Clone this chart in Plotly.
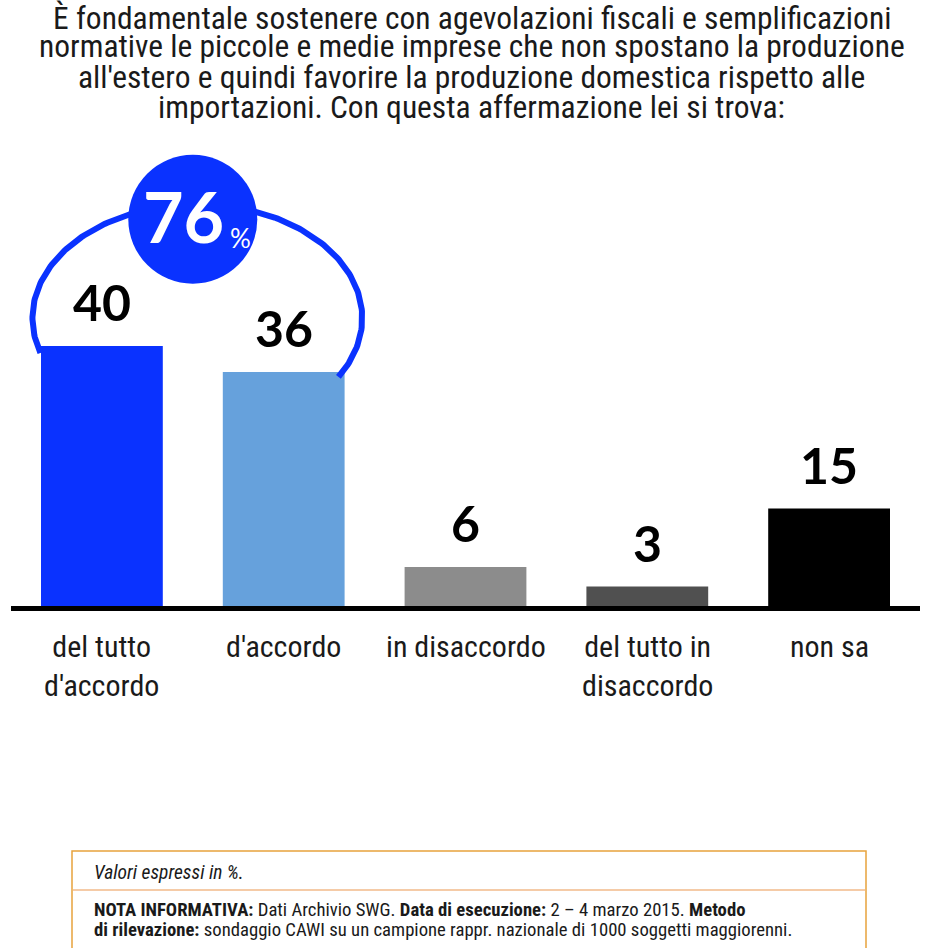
import numpy as np
import plotly.graph_objects as go

# ---------------- data ----------------
title_lines = [
    "È fondamentale sostenere con agevolazioni fiscali e semplificazioni",
    "normative le piccole e medie imprese che non spostano la produzione",
    "all'estero e quindi favorire la produzione domestica rispetto alle",
    "importazioni. Con questa affermazione lei si trova:",
]
categories = ["del tutto<br>d'accordo", "d'accordo", "in disaccordo",
              "del tutto in<br>disaccordo", "non sa"]
values = [40, 36, 6, 3, 15]
bar_colors = ["#0A32FF", "#66A1DC", "#8C8C8C", "#505050", "#000000"]
note_italic = "Valori espressi in %."
note_lines = [
    "<b>NOTA INFORMATIVA:</b> Dati Archivio SWG. <b>Data di esecuzione:</b> 2 – 4 marzo 2015. <b>Metodo</b>",
    "<b>di rilevazione:</b> sondaggio CAWI su un campione rappr. nazionale di 1000 soggetti maggiorenni.",
]

# ---------------- layout helpers ----------------
W, H = 936, 948
# plot area in window pixels
L, R, T, B = 11, 920, 140, 606
px_per_unit = 6.5
ymax = (B - T) / px_per_unit

def px_x(p):
    return (p - L) / (R - L)

def px_y(p):
    return (B - p) / (B - T)

NARROW = "Roboto Condensed, DejaVu Sans Condensed, sans-serif"
BOLD = "Lato, Open Sans, sans-serif"
BLUE = "#0A32FF"
TXT = "#1a1a1a"

xpos = list(range(len(categories)))
agree_total = values[0] + values[1]

fig = go.Figure()

# arc around the two "agree" bars (ellipse, in data units)
xc, rx = 0.525, 0.907
yc, ry = 44.3, 17.5
t = np.linspace(3.454, -0.544, 200)
fig.add_trace(go.Scatter(
    x=xc + rx * np.cos(t), y=yc + ry * np.sin(t), mode="lines",
    line=dict(color=BLUE, width=6), hoverinfo="skip", showlegend=False,
    cliponaxis=False))

fig.add_trace(go.Bar(
    x=xpos, y=values, marker=dict(color=bar_colors, line=dict(width=0)),
    hoverinfo="skip", showlegend=False))

# circle with total
fig.add_trace(go.Scatter(
    x=[0.5], y=[59.5], mode="markers",
    marker=dict(size=129, color=BLUE, line=dict(width=0)),
    hoverinfo="skip", showlegend=False, cliponaxis=False))

ann = []
# title lines
title_y = [18, 46.5, 77, 107.5]
for line, ty in zip(title_lines, title_y):
    ann.append(dict(text=line, xref="paper", yref="paper",
                    x=px_x(472), y=px_y(ty), xanchor="center",
                    yanchor="middle", showarrow=False,
                    font=dict(family=NARROW, size=31.5, color=TXT)))
# values above bars
for xi, v in zip(xpos, values):
    ann.append(dict(text=str(v), x=xi, y=v, xref="x", yref="y",
                    xanchor="center", yanchor="bottom", yshift=12,
                    showarrow=False,
                    font=dict(family=BOLD, size=50, color="black", weight="bold")))
# category labels
for xi, c in zip(xpos, categories):
    ann.append(dict(text=c, x=xi, y=0, xref="x", yref="paper",
                    xanchor="center", yanchor="top", yshift=-21,
                    showarrow=False,
                    font=dict(family=NARROW, size=30, color=TXT)))
# 76 %
ann.append(dict(text=str(agree_total), x=0.45, y=59.5, xref="x", yref="y",
                xanchor="center", yanchor="middle", yshift=3,
                showarrow=False,
                font=dict(family=BOLD, size=70, color="white", weight="bold")))
ann.append(dict(text="%", xref="paper", yref="paper", x=px_x(240), y=px_y(238),
                xanchor="center", yanchor="middle", showarrow=False,
                font=dict(family=BOLD, size=26, color="white")))
# footer
ann.append(dict(text="<i>" + note_italic + "</i>", xref="paper", yref="paper",
                x=px_x(92), y=px_y(872), xanchor="left", yanchor="middle",
                showarrow=False, font=dict(family=NARROW, size=19.5, color=TXT)))
for i, line in enumerate(note_lines):
    ann.append(dict(text=line, xref="paper", yref="paper",
                    x=px_x(92), y=px_y(909.5 + i * 20), xanchor="left",
                    yanchor="middle", showarrow=False,
                    font=dict(family=NARROW, size=18.7, color=TXT)))

shapes = [
    dict(type="rect", xref="paper", yref="paper",
         x0=px_x(72), x1=px_x(866), y0=px_y(851), y1=px_y(970),
         line=dict(color="#E8A33D", width=1.5), fillcolor="rgba(0,0,0,0)"),
    dict(type="line", xref="paper", yref="paper",
         x0=px_x(73), x1=px_x(865), y0=px_y(890), y1=px_y(890),
         line=dict(color="#F5CBA7", width=2)),
]

fig.update_layout(
    width=W, height=H,
    margin=dict(l=L, r=W - R, t=T, b=H - B, pad=0),
    plot_bgcolor="white", paper_bgcolor="white",
    bargap=0.33,
    xaxis=dict(range=[-0.5, len(categories) - 0.5], showgrid=False,
               zeroline=False, showticklabels=False, ticks="",
               showline=True, linecolor="black", linewidth=5, fixedrange=True),
    yaxis=dict(range=[0, ymax], showgrid=False, zeroline=False,
               showticklabels=False, ticks="", showline=False, fixedrange=True),
    annotations=ann, shapes=shapes,
)

fig.write_html(
    "out.html",
    config={"displayModeBar": False, "staticPlot": True},
    post_script="document.body.style.margin='0px';document.body.style.overflow='hidden';",
)
